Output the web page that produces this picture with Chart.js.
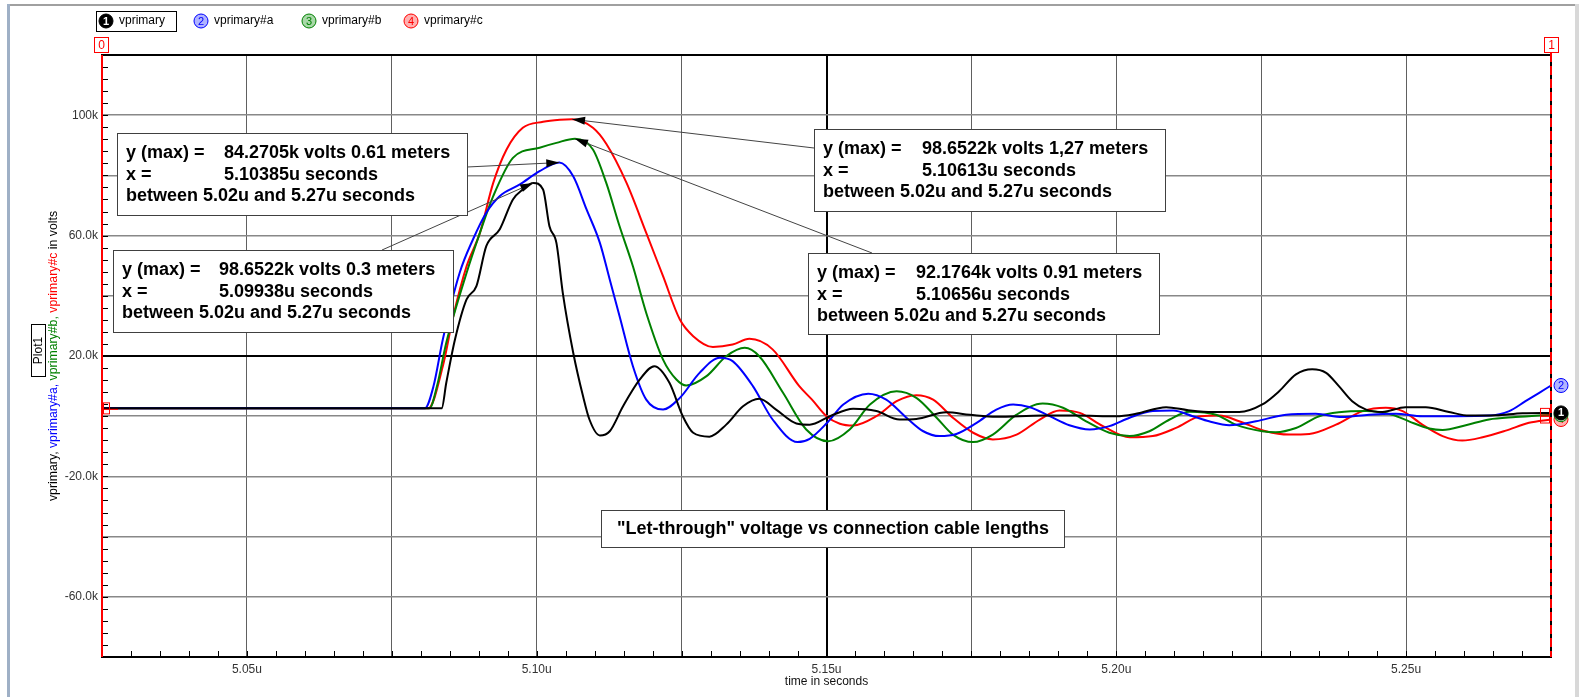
<!DOCTYPE html>
<html>
<head>
<meta charset="utf-8">
<script src="https://cdn.jsdelivr.net/npm/chart.js@4.4.1/dist/chart.umd.min.js"></script>
<style>
  html, body { margin: 0; padding: 0; background: #fff; overflow: hidden; }
  #wrap { position: relative; width: 1579px; height: 697px; }
</style>
</head>
<body>
<div id="wrap"><canvas id="plot"></canvas></div>
<script>
// time in microseconds, voltage in kV
const seriesNames = ['vprimary', 'vprimary#a', 'vprimary#b', 'vprimary#c'];
const seriesColors = ['#000000', '#0000ff', '#008000', '#ff0000'];
const badgeFills = ['#000000', '#b0b4ff', '#a8d8a8', '#ffb0b0'];

const vprimaryT = [5.025, 5.0836, 5.0844, 5.0859, 5.0879, 5.0896, 5.0913, 5.0936, 5.0959, 5.0976, 5.0994, 5.1011, 5.1022, 5.1034, 5.1045, 5.1063, 5.1080, 5.1091, 5.1109, 5.1126, 5.1149, 5.1178, 5.1203, 5.1229, 5.1252, 5.1270, 5.1298, 5.1327, 5.1356, 5.1384, 5.1413, 5.1448, 5.1471, 5.1506, 5.1546, 5.1586, 5.1626, 5.1655, 5.1707, 5.1747, 5.1793, 5.1873, 5.1931, 5.2000, 5.2034, 5.2086, 5.2124, 5.2166, 5.2212, 5.2252, 5.2281, 5.2310, 5.2338, 5.2362, 5.2384, 5.2407, 5.2431, 5.2459, 5.2499, 5.2534, 5.2574, 5.2609, 5.2655, 5.2701, 5.2750];
const vprimaryV = [2.6, 2.6, 11.1, 25.5, 38.8, 43.2, 56.5, 62.0, 72.0, 75.3, 77.5, 75.3, 63.1, 57.6, 41.0, 21.1, 6.6, -1.1, -6.4, -5.0, 3.3, 12.2, 16.6, 11.1, 0, -5.5, -6.8, -2.8, 3.3, 5.8, 2.2, -2.4, -2.8, 0, 2.5, 1.7, -1.1, -0.9, 1.3, 0.5, -0.2, 0.2, 0.2, 0, 0.8, 3.0, 2.0, 1.4, 1.4, 3.9, 8.3, 13.9, 15.6, 14.4, 10.0, 5.0, 2.2, 1.4, 3.0, 3.0, 1.4, 0.2, 0.3, 1.0, 1.1];

const vprimaryAT = [5.025, 5.0807, 5.0822, 5.0838, 5.0867, 5.0890, 5.0913, 5.0936, 5.0971, 5.1005, 5.1039, 5.1063, 5.1086, 5.1109, 5.1126, 5.1143, 5.1166, 5.1189, 5.1218, 5.1247, 5.1281, 5.1316, 5.1338, 5.1373, 5.1407, 5.1450, 5.1471, 5.1502, 5.1529, 5.1572, 5.1603, 5.1638, 5.1667, 5.1695, 5.1724, 5.1759, 5.1793, 5.1822, 5.1851, 5.1885, 5.1919, 5.1954, 5.1988, 5.2023, 5.2063, 5.2098, 5.2132, 5.2160, 5.2195, 5.2241, 5.2293, 5.2344, 5.2390, 5.2436, 5.2482, 5.2528, 5.2586, 5.2643, 5.2678, 5.2706, 5.2729, 5.2750];
const vprimaryAV = [2.6, 2.6, 10.0, 25.5, 47.6, 58.7, 67.6, 73.1, 77.0, 81.4, 84.27, 79.7, 68.7, 57.6, 45.4, 33.2, 16.6, 5.5, 2.2, 6.1, 14.4, 19.4, 18.3, 10.0, -1.1, -8.6, -7.5, -2.0, 3.9, 7.5, 5.5, -0.5, -5.0, -6.6, -5.9, -2.2, 2.2, 3.9, 3.0, 0, -3.0, -4.4, -3.3, -0.5, 1.7, 1.9, 0, -1.7, -3.0, -1.7, 0.5, 0.8, -0.3, 0.5, 0.8, 0, 0, 0.2, 1.7, 5.0, 7.7, 10.2];

const vprimaryBT = [5.025, 5.0815, 5.0828, 5.0844, 5.0879, 5.0902, 5.0925, 5.0959, 5.1005, 5.1034, 5.1066, 5.1097, 5.1120, 5.1143, 5.1166, 5.1189, 5.1218, 5.1241, 5.1258, 5.1293, 5.1327, 5.1359, 5.1384, 5.1425, 5.1465, 5.1503, 5.1540, 5.1575, 5.1621, 5.1655, 5.1690, 5.1718, 5.1753, 5.1787, 5.1828, 5.1873, 5.1908, 5.1948, 5.1988, 5.2023, 5.2057, 5.2092, 5.2126, 5.2172, 5.2206, 5.2252, 5.2275, 5.2310, 5.2350, 5.2384, 5.2431, 5.2476, 5.2505, 5.2540, 5.2563, 5.2603, 5.2643, 5.2689, 5.2750];
const vprimaryBV = [2.6, 2.6, 10.0, 24.4, 47.6, 60.9, 73.1, 85.8, 89.2, 90.8, 92.18, 88.6, 77.5, 63.1, 49.8, 34.3, 18.8, 12.2, 10.2, 13.3, 19.9, 22.7, 19.9, 7.8, -4.4, -8.3, -4.4, 3.9, 8.3, 6.1, -0.5, -6.1, -8.6, -6.1, 0.5, 4.2, 2.8, -1.7, -5.5, -6.6, -5.0, -1.1, 1.5, 0.5, -2.8, -5.0, -5.3, -3.9, 0, 1.3, 1.7, 0.5, -1.7, -4.1, -4.6, -3.0, -1.1, -0.3, 0.5];

const vprimaryCT = [5.025, 5.0813, 5.0838, 5.0856, 5.0879, 5.0902, 5.0925, 5.0948, 5.0976, 5.1011, 5.1040, 5.1061, 5.1097, 5.1120, 5.1155, 5.1189, 5.1218, 5.1247, 5.1270, 5.1304, 5.1338, 5.1367, 5.1407, 5.1453, 5.1475, 5.1500, 5.1523, 5.1546, 5.1586, 5.1621, 5.1655, 5.1684, 5.1718, 5.1753, 5.1787, 5.1828, 5.1868, 5.1902, 5.1937, 5.1977, 5.2023, 5.2063, 5.2103, 5.2146, 5.2178, 5.2212, 5.2258, 5.2298, 5.2333, 5.2379, 5.2425, 5.2465, 5.2494, 5.2528, 5.2563, 5.2597, 5.2632, 5.2672, 5.2712, 5.2750];
const vprimaryCV = [2.6, 2.6, 16.6, 33.2, 49.8, 60.9, 77.5, 88.6, 95.8, 97.8, 98.5, 98.65, 95.8, 90.5, 77.5, 60.9, 46.5, 32.1, 26.6, 23.0, 23.8, 25.7, 22.2, 10.0, 5.5, 0, -2.5, -3.1, 0, 5.0, 7.0, 5.5, -0.5, -5.5, -7.7, -6.1, -1.1, 1.9, 1.1, -3.3, -7.0, -6.6, -3.9, 0, 0.2, -1.7, -5.0, -6.1, -5.9, -2.8, 1.7, 2.8, 1.7, -2.8, -6.6, -8.1, -7.0, -4.8, -2.2, -1.1];

const xTickLabelValues = [5.05, 5.10, 5.15, 5.20, 5.25];
const yTickLabelValues = [100, 60, 20, -20, -60];

// peak notes: which series each box points at, and its text
const noteSeries = [1, 0, 3, 2];
const noteValues = [
  ['84.2705k volts 0.61 meters', '5.10385u seconds'],
  ['98.6522k volts 0.3 meters', '5.09938u seconds'],
  ['98.6522k volts 1,27 meters', '5.10613u seconds'],
  ['92.1764k volts 0.91 meters', '5.10656u seconds']
];
const noteRange = 'between 5.02u and 5.27u seconds';
const plotNote = '"Let-through" voltage vs connection cable lengths';

// box layout in page pixels
const noteBoxes = [
  { x: 117, y: 133, w: 350, h: 82, vx: 224, ax: 467, ay: 167 },
  { x: 113, y: 250, w: 340, h: 82, vx: 219, ax: 382, ay: 250 },
  { x: 814, y: 129, w: 351, h: 82, vx: 922, ax: 814, ay: 148 },
  { x: 808, y: 253, w: 351, h: 81, vx: 916, ax: 872, ay: 253 }
];

const FONT = '"Liberation Sans", Arial, sans-serif';

function pts(ts, vs) { return ts.map((t, i) => ({ x: t, y: vs[i] })); }
const seriesData = [pts(vprimaryT, vprimaryV), pts(vprimaryAT, vprimaryAV), pts(vprimaryBT, vprimaryBV), pts(vprimaryCT, vprimaryCV)];

function near(a, b) { return Math.abs(a - b) < 1e-6; }

function badge(c, x, y, i) {
  c.beginPath();
  c.arc(x, y, 7, 0, Math.PI * 2);
  c.fillStyle = badgeFills[i];
  c.fill();
  c.lineWidth = 1;
  c.strokeStyle = seriesColors[i];
  c.stroke();
  c.fillStyle = i === 0 ? '#fff' : seriesColors[i];
  c.font = (i === 0 ? 'bold ' : '') + '11px ' + FONT;
  c.textAlign = 'center';
  c.textBaseline = 'middle';
  c.fillText(String(i + 1), x, y + 0.5);
}

function arrow(c, x0, y0, x1, y1) {
  c.strokeStyle = '#444';
  c.lineWidth = 1;
  c.beginPath(); c.moveTo(x0, y0); c.lineTo(x1, y1); c.stroke();
  const a = Math.atan2(y1 - y0, x1 - x0), L = 13, W = 4;
  c.fillStyle = '#000';
  c.beginPath();
  c.moveTo(x1, y1);
  c.lineTo(x1 - L * Math.cos(a) + W * Math.sin(a), y1 - L * Math.sin(a) - W * Math.cos(a));
  c.lineTo(x1 - L * Math.cos(a) - W * Math.sin(a), y1 - L * Math.sin(a) + W * Math.cos(a));
  c.closePath();
  c.fill();
}

const decorations = {
  id: 'decorations',
  beforeDraw(chart) {
    const c = chart.ctx;
    c.save();
    c.fillStyle = '#fff';
    c.fillRect(0, 0, chart.width, chart.height);
    // window frame
    c.fillStyle = '#a0a0a0';
    c.fillRect(8, 4, chart.width - 8, 2);
    c.fillStyle = '#9fb0c6';
    c.fillRect(7, 4, 3, chart.height - 4);
    c.fillStyle = '#d8d8d8';
    c.fillRect(chart.width - 4, 4, 4, chart.height - 4);
    c.restore();
  },
  beforeDatasetsDraw(chart) {
    const c = chart.ctx, a = chart.chartArea;
    const xs = chart.scales.x, ys = chart.scales.y;
    c.save();
    c.strokeStyle = '#000';
    c.lineWidth = 1;
    c.beginPath();
    for (let v = -80; v <= 120; v += 4) {
      const py = Math.round(ys.getPixelForValue(v)) + 0.5;
      c.moveTo(a.left, py); c.lineTo(a.left + 6, py);
    }
    for (let k = 0; k <= 50; k++) {
      const px = Math.round(xs.getPixelForValue(5.025 + k * 0.005)) + 0.5;
      c.moveTo(px, a.bottom); c.lineTo(px, a.bottom - 6);
    }
    c.stroke();
    c.restore();
  },
  afterDatasetsDraw(chart) {
    const c = chart.ctx, a = chart.chartArea;
    const xs = chart.scales.x, ys = chart.scales.y;
    c.save();
    // top and right frame
    c.fillStyle = '#000';
    c.fillRect(a.left - 1, a.top - 1, a.right - a.left + 2, 2);
    c.fillRect(a.right - 1, a.top - 1, 2, a.bottom - a.top + 2);

    // cursor 0 on left edge, cursor 1 on right edge
    c.strokeStyle = '#ff0000';
    c.lineWidth = 2;
    c.beginPath(); c.moveTo(a.left, a.top); c.lineTo(a.left, a.bottom); c.stroke();
    c.setLineDash([9, 4]);
    c.beginPath(); c.moveTo(a.right, a.top - 2); c.lineTo(a.right, a.bottom); c.stroke();
    c.setLineDash([]);
    c.lineWidth = 1;
    const y0 = ys.getPixelForValue(seriesData[0][0].y);
    c.strokeRect(a.left + 1.5, y0 - 5.5, 6, 11);
    c.beginPath(); c.moveTo(a.left, y0 + 1); c.lineTo(a.left + 16, y0 + 1); c.stroke();
    [0, 3].forEach(i => {
      const last = seriesData[i][seriesData[i].length - 1];
      const py = ys.getPixelForValue(last.y);
      c.strokeRect(a.right - 10.5, py - 4.5, 9, 8);
    });

    // cursor tags
    c.font = '12px ' + FONT;
    c.textAlign = 'center';
    c.textBaseline = 'middle';
    [[a.left - 1, '0'], [a.right, '1']].forEach(([cx, t]) => {
      c.fillStyle = '#fff';
      c.fillRect(cx - 7, 37, 14, 15);
      c.strokeStyle = '#ff0000';
      c.strokeRect(cx - 6.5, 37.5, 14, 15);
      c.fillStyle = '#ff0000';
      c.fillText(t, cx + 0.5, 45.5);
    });

    // end badges, black on top
    [3, 2, 1, 0].forEach(i => {
      const last = seriesData[i][seriesData[i].length - 1];
      badge(c, a.right + 10, ys.getPixelForValue(last.y), i);
    });

    // peak note boxes with arrows
    noteBoxes.forEach((b, k) => {
      const data = seriesData[noteSeries[k]];
      let best = data[0];
      data.forEach(p => { if (p.y > best.y) best = p; });
      arrow(c, b.ax, b.ay, xs.getPixelForValue(best.x), ys.getPixelForValue(best.y));
    });
    noteBoxes.forEach((b, k) => {
      c.fillStyle = '#fff';
      c.fillRect(b.x, b.y, b.w, b.h);
      c.strokeStyle = '#404040';
      c.lineWidth = 1;
      c.strokeRect(b.x + 0.5, b.y + 0.5, b.w, b.h);
      c.fillStyle = '#000';
      c.font = 'bold 18px ' + FONT;
      c.textAlign = 'left';
      c.textBaseline = 'middle';
      c.fillText('y (max) =', b.x + 9, b.y + 20);
      c.fillText(noteValues[k][0], b.vx, b.y + 20);
      c.fillText('x =', b.x + 9, b.y + 42);
      c.fillText(noteValues[k][1], b.vx, b.y + 42);
      c.fillText(noteRange, b.x + 9, b.y + 63);
    });

    // plot note
    c.fillStyle = '#fff';
    c.fillRect(601, 510, 463, 37);
    c.strokeStyle = '#404040';
    c.strokeRect(601.5, 510.5, 463, 37);
    c.fillStyle = '#000';
    c.font = 'bold 18px ' + FONT;
    c.textAlign = 'center';
    c.fillText(plotNote, 833, 529);
    c.restore();
  },
  afterDraw(chart) {
    const c = chart.ctx, a = chart.chartArea;
    c.save();
    // legend
    const legendX = [106, 201, 309, 411];
    legendX.forEach((x, i) => {
      badge(c, x, 21, i);
      c.fillStyle = '#000';
      c.font = '12px ' + FONT;
      c.textAlign = 'left';
      c.textBaseline = 'middle';
      c.fillText(seriesNames[i], x + 13, 21);
    });
    c.strokeStyle = '#000';
    c.lineWidth = 1;
    c.strokeRect(96.5, 11.5, 80, 20);

    // x title
    c.fillStyle = '#111';
    c.font = '12px ' + FONT;
    c.textAlign = 'center';
    c.textBaseline = 'middle';
    c.fillText('time in seconds', (a.left + a.right) / 2, 682);

    // y title, coloured per series
    const parts = [
      ['vprimary, ', seriesColors[0]], ['vprimary#a, ', seriesColors[1]],
      ['vprimary#b, ', seriesColors[2]], ['vprimary#c', seriesColors[3]], [' in volts', '#000']
    ];
    c.translate(54, (a.top + a.bottom) / 2);
    c.rotate(-Math.PI / 2);
    c.font = '12.3px ' + FONT;
    const total = parts.reduce((s, p) => s + c.measureText(p[0]).width, 0);
    let px = -total / 2;
    c.textAlign = 'left';
    parts.forEach(([t, col]) => {
      c.fillStyle = col;
      c.fillText(t, px, 0);
      px += c.measureText(t).width;
    });
    c.setTransform(1, 0, 0, 1, 0, 0);

    // plot name tag
    c.fillStyle = '#fff';
    c.fillRect(31, 324, 14, 52);
    c.strokeStyle = '#000';
    c.strokeRect(31.5, 324.5, 14, 52);
    c.translate(38.5, 350.5);
    c.rotate(-Math.PI / 2);
    c.fillStyle = '#000';
    c.font = '12px ' + FONT;
    c.textAlign = 'center';
    c.fillText('Plot1', 0, 0);
    c.restore();
  }
};

const gridX = [], gridY = [];
for (let i = 0; i <= 10; i++) gridX.push(Math.round((5.025 + i * 0.025) * 1000) / 1000);
for (let v = -80; v <= 120; v += 20) gridY.push(v);

new Chart(document.getElementById('plot'), {
  type: 'line',
  data: {
    datasets: seriesData.map((d, i) => ({
      label: seriesNames[i],
      data: d,
      borderColor: seriesColors[i],
      backgroundColor: seriesColors[i],
      borderWidth: 2,
      pointRadius: 0,
      cubicInterpolationMode: 'monotone',
      fill: false
    }))
  },
  options: {
    responsive: true,
    maintainAspectRatio: false,
    devicePixelRatio: 1,
    animation: false,
    events: [],
    layout: { padding: { left: 0, top: 55, right: 28, bottom: 0 } },
    plugins: { legend: { display: false }, tooltip: { enabled: false }, title: { display: false } },
    scales: {
      x: {
        type: 'linear',
        min: 5.025,
        max: 5.275,
        afterBuildTicks: s => { s.ticks = gridX.map(v => ({ value: v })); },
        afterFit: s => { s.height = 40; },
        ticks: {
          autoSkip: false,
          maxRotation: 0,
          padding: 5,
          color: '#333',
          font: { family: FONT, size: 12 },
          callback: v => xTickLabelValues.some(t => near(t, v)) ? v.toFixed(2) + 'u' : ''
        },
        grid: {
          drawTicks: false,
          color: ctx => near(ctx.tick.value, 5.15) ? '#000' : '#606060',
          lineWidth: ctx => near(ctx.tick.value, 5.15) ? 2 : 1
        },
        border: { display: true, color: '#000', width: 2 }
      },
      y: {
        type: 'linear',
        min: -80,
        max: 120,
        afterBuildTicks: s => { s.ticks = gridY.map(v => ({ value: v })); },
        afterFit: s => { s.width = 102; },
        ticks: {
          autoSkip: false,
          padding: 4,
          color: '#333',
          font: { family: FONT, size: 12 },
          callback: v => yTickLabelValues.includes(v) ? (Math.abs(v) >= 100 ? v + 'k' : v.toFixed(1) + 'k') : ''
        },
        grid: {
          drawTicks: false,
          color: ctx => ctx.tick.value === 20 ? '#000' : '#888',
          lineWidth: ctx => ctx.tick.value === 20 ? 2 : 1.5
        },
        border: { display: true, color: '#000', width: 2 }
      }
    }
  },
  plugins: [decorations]
});
</script>
</body>
</html>
